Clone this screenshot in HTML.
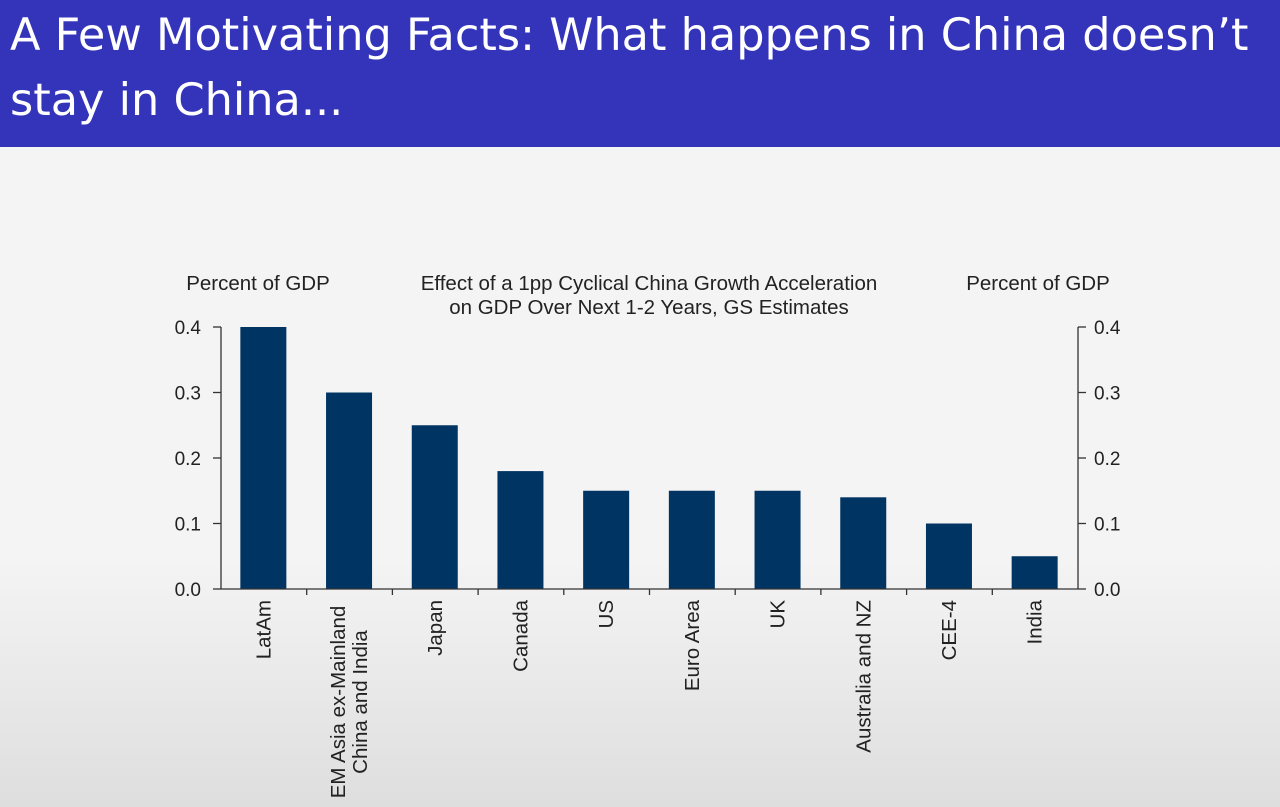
<!DOCTYPE html>
<html><head><meta charset="utf-8"><style>
html,body{margin:0;padding:0;}
body{width:1280px;height:807px;overflow:hidden;position:relative;font-family:"Liberation Sans",sans-serif;background:linear-gradient(#f4f4f4 0,#f4f4f4 560px,#dedede 807px);}
#hdr{position:absolute;left:0;top:0;width:1280px;height:147px;background:#3434bb;}
#hdr div{position:absolute;left:10px;color:#fff;font-family:"DejaVu Sans","Liberation Sans",sans-serif;font-size:44.6px;letter-spacing:0px;white-space:nowrap;}
svg{position:absolute;left:0;top:0;}
</style></head><body>
<div id="hdr">
<div style="top:9px">A Few Motivating Facts: What happens in China doesn’t</div>
<div style="top:74px">stay in China...</div>
</div>
<svg id="chart" width="1280" height="807"></svg>
<script>
const categories=["LatAm","EM Asia ex-Mainland|China and India","Japan","Canada","US","Euro Area","UK","Australia and NZ","CEE-4","India"];
const values=[0.4,0.3,0.25,0.18,0.15,0.15,0.15,0.14,0.1,0.05];
const tickLabels=["0.0","0.1","0.2","0.3","0.4"];
const tickValues=[0,0.1,0.2,0.3,0.4];
const NS="http://www.w3.org/2000/svg";
const svg=document.getElementById('chart');
const X0=221,X1=1078,Y0=589,Y1=327,VMAX=0.4;
const step=(X1-X0)/categories.length;
const y=v=>Y0-(v/VMAX)*(Y0-Y1);
const xc=i=>X0+step*(i+0.5)-0.5;
function mk(t,a){const e=document.createElementNS(NS,t);for(const k in a)e.setAttribute(k,a[k]);svg.appendChild(e);return e;}
function txt(x,yy,s,anchor,size){const e=mk('text',{x:x,y:yy,'text-anchor':anchor||'start','font-size':size||20.5,fill:'#222','font-family':'Liberation Sans, sans-serif'});e.textContent=s;return e;}
let t;
t=txt(258,290,"Percent of GDP","middle");


t=txt(1038,290,"Percent of GDP","middle");


t=txt(649,290,"Effect of a 1pp Cyclical China Growth Acceleration","middle");


t=txt(649,314,"on GDP Over Next 1-2 Years, GS Estimates","middle");


let l;
l=mk('line',{x1:X0,y1:Y1,x2:X0,y2:Y0,stroke:'#333','stroke-width':1.3});


l=mk('line',{x1:X1,y1:Y1,x2:X1,y2:Y0,stroke:'#333','stroke-width':1.3});


tickValues.forEach((v,i)=>{
  mk('line',{x1:X0-8,y1:y(v),x2:X0,y2:y(v),stroke:'#333','stroke-width':1.3});
  mk('line',{x1:X1,y1:y(v),x2:X1+8,y2:y(v),stroke:'#333','stroke-width':1.3});
  let a=txt(X0-20,y(v)+7,tickLabels[i],'end',19);
  
  
  let b=txt(X1+16,y(v)+7,tickLabels[i],'start',19);
  
  
});
values.forEach((v,i)=>{
  const r=mk('rect',{x:xc(i)-23,y:y(v),width:46,height:Y0-y(v),fill:'#003462'});
  
  
  if(i>0) mk('line',{x1:X0+step*i,y1:Y0,x2:X0+step*i,y2:Y0+6,stroke:'#333','stroke-width':1.3});
  const lines=categories[i].split('|');
  const g=document.createElementNS(NS,'text');
  g.setAttribute('transform','translate('+(xc(i)+7-(lines.length-1)*11)+','+(Y0+11)+') rotate(-90)');
  g.setAttribute('text-anchor', lines.length>1?'middle':'end');
  g.setAttribute('font-size','20.5');g.setAttribute('fill','#222');g.setAttribute('font-family','Liberation Sans, sans-serif');
  lines.forEach((s,j)=>{const ts=document.createElementNS(NS,'tspan');ts.setAttribute('x',lines.length>1?-102:0);ts.setAttribute('y',j*22);ts.textContent=s;g.appendChild(ts);});
  
  
  svg.appendChild(g);
});
l=mk('line',{x1:X0,y1:Y0,x2:X1,y2:Y0,stroke:'#333','stroke-width':1.3});


</script>
</body></html>
